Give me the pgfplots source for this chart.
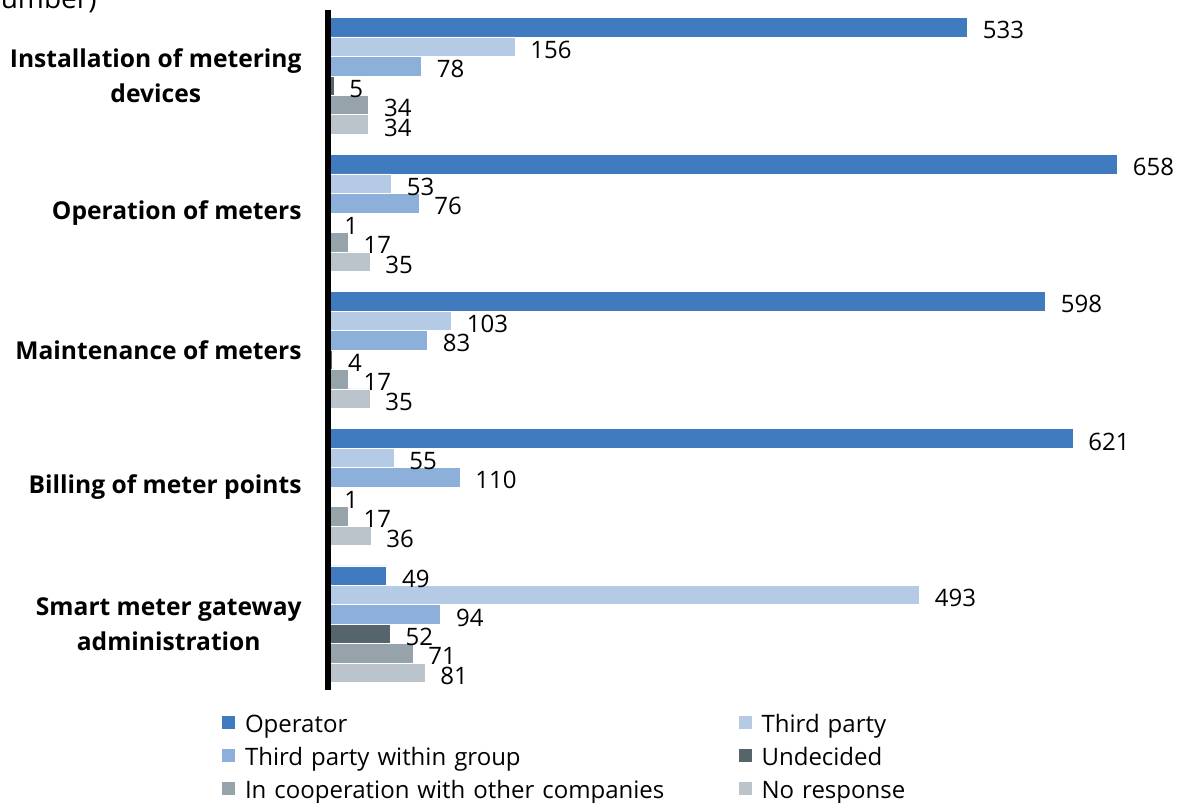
\documentclass[border=0pt]{standalone}
\usepackage{pgfplots}
\pgfplotsset{compat=1.18}
\usepackage{fontspec}
\setmainfont{Open Sans}

\definecolor{cOperator}{HTML}{3F7BBE}
\definecolor{cThird}{HTML}{B4CAE5}
\definecolor{cGroup}{HTML}{8DB0DA}
\definecolor{cUndecided}{HTML}{56646C}
\definecolor{cCoop}{HTML}{97A3AB}
\definecolor{cNone}{HTML}{BBC4CA}

\begin{document}
\begin{tikzpicture}
\path[use as bounding box] (0,0) rectangle (592pt,-401.5pt);
\clip (0,0) rectangle (592pt,-401.5pt);
\node[anchor=base east, inner sep=0pt, font=\fontsize{14}{16}\selectfont] at (48.5pt,-4.5pt) {(Number)};
\begin{axis}[
  at={(164pt,-345pt)}, anchor=south west,
  scale only axis, width=420pt, height=340pt,
  /pgf/number format/assume math mode=true,
  axis on top,
  xbar, xmin=0, xmax=700, ymin=-0.48, ymax=4.48, y dir=reverse,
  axis x line=none, axis y line*=left,
  y axis line style={line width=2.6pt, black, -},
  every outer y axis line/.append style={line width=2.6pt, black, -},
  ytick={0,...,4},
  yticklabels={{Installation of metering\\devices},{Operation of meters},{Maintenance of meters},{Billing of meter points},{Smart meter gateway\\administration}},
  ytick style={draw=none}, major tick length=0pt,
  yticklabel style={font=\bfseries\fontsize{12.3}{17.75}\selectfont, align=center, anchor=east, inner sep=0pt, xshift=-13pt},
  bar width=0.142,
  nodes near coords,
  every node near coord/.append style={font=\fontsize{12}{14}\selectfont, anchor=west, inner sep=0pt, xshift=7.5pt, yshift=-1.5pt, text=black},
  legend columns=2,
  legend cell align=left,
  legend image code/.code={\fill[#1] (0pt,-2.5pt) rectangle (7pt,4.5pt);},
  legend style={at={(-0.1345,-0.019)}, anchor=north west, draw=none, fill=none,
    column sep=0pt, row sep=0pt,
    /tikz/every odd column/.append style={column sep=4.5pt},
    /tikz/every even column/.append style={column sep=6.5pt},
    nodes={inner sep=0pt, text width=240pt, text height=12.5pt, text depth=4pt, font=\fontsize{12}{14}\selectfont}},
]
\addplot[fill=cOperator, draw=white, line width=0.3pt, bar shift=-0.355]
  coordinates {(533,0) (658,1) (598,2) (621,3) (49,4)};
\addplot[fill=cThird, draw=white, line width=0.3pt, bar shift=-0.213]
  coordinates {(156,0) (53,1) (103,2) (55,3) (493,4)};
\addplot[fill=cGroup, draw=white, line width=0.3pt, bar shift=-0.071]
  coordinates {(78,0) (76,1) (83,2) (110,3) (94,4)};
\addplot[fill=cUndecided, draw=white, line width=0.3pt, bar shift=0.071]
  coordinates {(5,0) (1,1) (4,2) (1,3) (52,4)};
\addplot[fill=cCoop, draw=white, line width=0.3pt, bar shift=0.213]
  coordinates {(34,0) (17,1) (17,2) (17,3) (71,4)};
\addplot[fill=cNone, draw=white, line width=0.3pt, bar shift=0.355]
  coordinates {(34,0) (35,1) (35,2) (36,3) (81,4)};
\legend{Operator, Third party, Third party within group, Undecided, In cooperation with other companies, No response}
\end{axis}
\end{tikzpicture}
\end{document}
